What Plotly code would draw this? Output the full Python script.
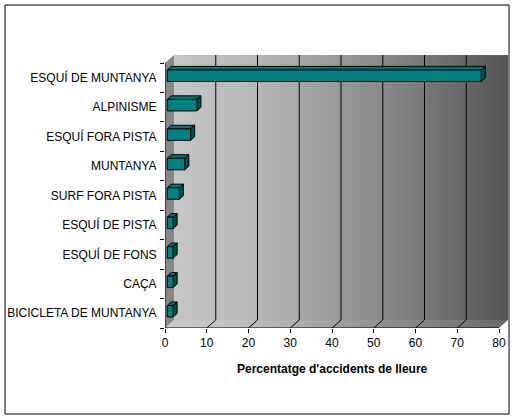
import plotly.graph_objects as go

# ---- data ----
categories = ["ESQUÍ DE MUNTANYA", "ALPINISME", "ESQUÍ FORA PISTA", "MUNTANYA",
              "SURF FORA PISTA", "ESQUÍ DE PISTA", "ESQUÍ DE FONS", "CAÇA",
              "BICICLETA DE MUNTANYA"]
values = [75.2, 7.1, 5.6, 4.2, 2.9, 1.4, 1.4, 1.4, 1.4]
x_ticks = [0, 10, 20, 30, 40, 50, 60, 70, 80]
x_title = "Percentatge d'accidents de lleure"

# ---- layout constants ----
W, H = 516, 420
ML, MR, MT, MB = 165, 8, 55, 92
PW = W - ML - MR
PH = H - MT - MB
DX_PX, DY_PX = 9, 8
XMAX = x_ticks[-1]
n = len(categories)
sx = (PW - DX_PX) / XMAX
DX = DX_PX / sx
sy = (PH - DY_PX) / n
DY = DY_PX / sy
F0, F1 = 0.25, 0.70   # bar front / back depth fractions
BH = 11.5 / sy        # bar front-face height in category units

FONT = "Liberation Sans, Arial, sans-serif"
TEAL_FRONT, TEAL_TOP, TEAL_SIDE = "#008080", "#007474", "#004f4f"

ypos = [n - 1 - k for k in range(n)]
y_lo, y_hi = -0.5, n - 0.5

fig = go.Figure()

# back wall with horizontal gradient
fig.add_trace(go.Scatter(
    x=[DX, XMAX + DX, XMAX + DX, DX, DX],
    y=[y_lo + DY, y_lo + DY, y_hi + DY, y_hi + DY, y_lo + DY],
    mode="lines", line=dict(width=0), fill="toself",
    fillgradient=dict(type="horizontal",
                      colorscale=[[0, "#c6c6c6"], [0.25, "#b6b6b6"],
                                  [0.6, "#8c8c8c"], [1, "#555555"]]),
    hoverinfo="skip", showlegend=False))

# floor
fig.add_trace(go.Scatter(
    x=[0, XMAX, XMAX + DX, DX, 0],
    y=[y_lo, y_lo, y_lo + DY, y_lo + DY, y_lo],
    mode="lines", line=dict(width=0), fill="toself",
    fillgradient=dict(type="horizontal",
                      colorscale=[[0, "#cccccc"], [0.25, "#bdbdbd"],
                                  [0.6, "#949494"], [1, "#6a6a6a"]]),
    hoverinfo="skip", showlegend=False))

# left wall
fig.add_trace(go.Scatter(
    x=[0, DX, DX, 0, 0],
    y=[y_lo, y_lo + DY, y_hi + DY, y_hi, y_lo],
    mode="lines", line=dict(width=0), fill="toself", fillcolor="#878787",
    hoverinfo="skip", showlegend=False))

# gridlines (back wall verticals + floor diagonals)
gx, gy = [], []
for v in x_ticks[1:-1]:
    gx += [v + DX, v + DX, None, v, v + DX, None]
    gy += [y_lo + DY, y_hi + DY, None, y_lo, y_lo + DY, None]
fig.add_trace(go.Scatter(x=gx, y=gy, mode="lines",
                         line=dict(color="black", width=1),
                         hoverinfo="skip", showlegend=False))

# 3D bars
x0 = F0 * DX
ddx = (F1 - F0) * DX
ddy = (F1 - F0) * DY
tx, ty, sxs, sys_, fx, fy = [], [], [], [], [], []
for v, c in zip(values, ypos):
    b0 = c - BH / 2 + F0 * DY
    b1 = c + BH / 2 + F0 * DY
    e = x0 + v
    tx += [x0, e, e + ddx, x0 + ddx, x0, None]
    ty += [b1, b1, b1 + ddy, b1 + ddy, b1, None]
    sxs += [e, e + ddx, e + ddx, e, e, None]
    sys_ += [b0, b0 + ddy, b1 + ddy, b1, b0, None]
    fx += [x0, e, e, x0, x0, None]
    fy += [b0, b0, b1, b1, b0, None]
for xs, ys, col in [(tx, ty, TEAL_TOP), (sxs, sys_, TEAL_SIDE), (fx, fy, TEAL_FRONT)]:
    fig.add_trace(go.Scatter(x=xs, y=ys, mode="lines", fill="toself",
                             fillcolor=col, line=dict(color="black", width=1),
                             hoverinfo="skip", showlegend=False))

# axis lines (front plane)
fig.add_shape(type="line", x0=0, x1=0, y0=y_lo, y1=y_hi,
              line=dict(color="black", width=1), layer="above")
fig.add_shape(type="line", x0=0, x1=XMAX, y0=y_lo, y1=y_lo,
              line=dict(color="black", width=1), layer="above")

# outer border
fig.add_shape(type="rect", xref="paper", yref="paper",
              x0=(5 - ML) / PW, x1=(509 - ML) / PW,
              y0=(H - MB - 414) / PH, y1=(H - MB - 5) / PH,
              line=dict(color="black", width=1), fillcolor="rgba(0,0,0,0)")

fig.add_annotation(text="<b>" + x_title + "</b>", x=XMAX / 2, xref="x",
                   y=0, yref="paper", yshift=-41, yanchor="middle",
                   showarrow=False, font=dict(family=FONT, size=12, color="black"))

fig.update_layout(
    width=W, height=H,
    margin=dict(l=ML, r=MR, t=MT, b=MB, autoexpand=False),
    paper_bgcolor="white", plot_bgcolor="white",
    showlegend=False, hovermode=False,
    font=dict(family=FONT, size=12, color="black"),
    xaxis=dict(range=[0, XMAX + DX], tickvals=x_ticks, ticks="outside",
               ticklen=4, tickcolor="black", showgrid=False, zeroline=False,
               showline=False, fixedrange=True,
               tickfont=dict(family=FONT, size=12, color="black")),
    yaxis=dict(range=[y_lo, y_hi + DY], tickvals=ypos, ticktext=categories,
               ticks="outside", ticklen=5, tickcolor="rgba(0,0,0,0)",
               showgrid=False, zeroline=False, showline=False, fixedrange=True,
               minor=dict(tickvals=[i - 0.5 for i in range(n + 1)],
                          ticks="outside", ticklen=4, tickcolor="black",
                          showgrid=False),
               tickfont=dict(family=FONT, size=12, color="black")),
)

fig.write_html("out.html", config={"displayModeBar": False},
               post_script="document.body.style.margin='0';document.body.style.overflow='hidden';")
